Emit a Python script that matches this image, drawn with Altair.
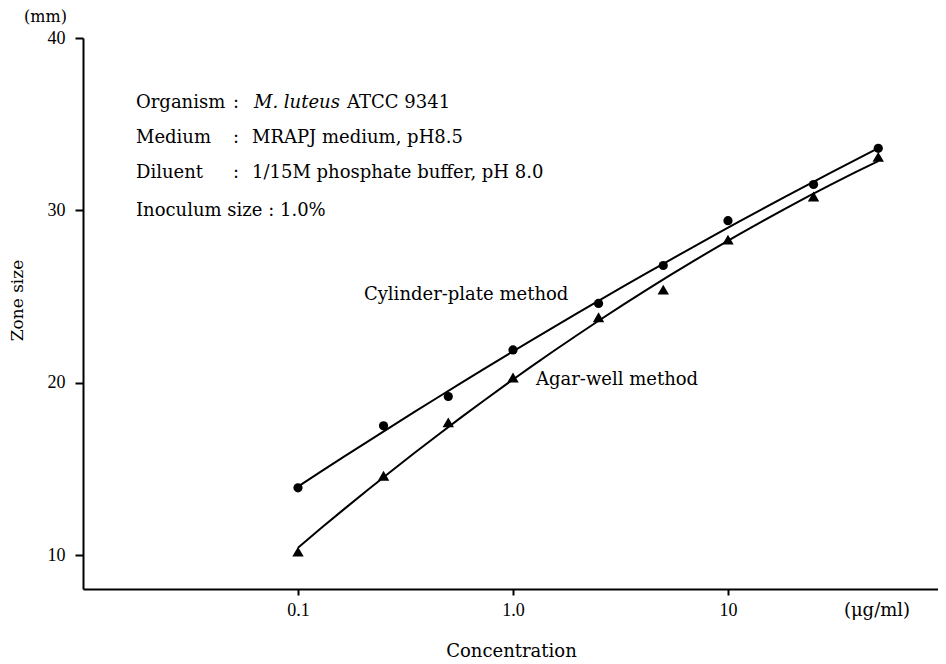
import altair as alt
import pandas as pd

# ---- data ----
conc = [0.1, 0.25, 0.5, 1.0, 2.5, 5.0, 10.0, 25.0, 50.0]
cylinder = [13.9, 17.5, 19.2, 21.9, 24.6, 26.8, 29.4, 31.5, 33.6]
agar = [10.2, 14.6, 17.7, 20.3, 23.8, 25.4, 28.3, 30.8, 33.1]
methods = ["Cylinder-plate method", "Agar-well method"]
shapes = ["circle", "triangle-up"]
x_ticks = [0.1, 1.0, 10.0]
x_tick_labels = ["0.1", "1.0", "10"]
y_ticks = [10, 20, 30, 40]

# annotation texts, anchored in data coordinates (left edge, vertical middle)
ann_text = ["Organism", ":", "ATCC 9341",
            "Medium", ":", "MRAPJ medium, pH8.5",
            "Diluent", ":", "1/15M phosphate buffer, pH 8.0",
            "Inoculum size : 1.0%",
            "Cylinder-plate method", "Agar-well method",
            "(\u03bcg/ml)"]
ann_x = [0.01764, 0.04985, 0.1690,
         0.01764, 0.04985, 0.06109,
         0.01764, 0.04985, 0.06109,
         0.01764,
         0.2026, 1.279,
         34.6]
ann_y = [36.23, 36.23, 36.23,
         34.20, 34.20, 34.20,
         32.17, 32.17, 32.17,
         29.97,
         25.09, 20.15,
         6.75]
italic_text = ["M. luteus"]
italic_x = [0.06242]
italic_y = [36.23]
unit_text = ["(mm)"]
unit_x = [0.00532]
unit_y = [41.22]

FONT = "Liberation Serif"
TFONT = "DejaVu Serif"
W, H = 855, 551

df = pd.DataFrame({
    "conc": conc * 2,
    "zone": cylinder + agar,
    "method": [methods[0]] * len(conc) + [methods[1]] * len(conc),
})
ann = pd.DataFrame({"conc": ann_x, "zone": ann_y, "text": ann_text})
ital = pd.DataFrame({"conc": italic_x, "zone": italic_y, "text": italic_text})
unit = pd.DataFrame({"conc": unit_x, "zone": unit_y, "text": unit_text})

label_expr = " : ".join(
    f"abs(datum.value - {v}) < 1e-6 ? '{l}'" for v, l in zip(x_ticks, x_tick_labels)
) + " : ''"

x_scale = alt.Scale(type="log", domain=[0.01, 94.8], nice=False)
y_scale = alt.Scale(domain=[8.03, 40], nice=False, zero=False)

x_enc = alt.X("conc:Q", scale=x_scale,
              axis=alt.Axis(values=x_ticks, labelExpr=label_expr, title="Concentration",
                            titleX=428, titleY=67, titleAnchor=None,
                            titleBaseline="alphabetic", titleAlign="center",
                            tickSize=6, labelPadding=6, grid=False))
y_enc = alt.Y("zone:Q", scale=y_scale,
              axis=alt.Axis(values=y_ticks, title="Zone size", titleX=-66, titleY=262,
                            titleAlign="center", titleBaseline="middle", titleFontSize=17,
                            tickSize=8, labelPadding=10, grid=False))

base = alt.Chart(df)

# fitted curves: quadratic fit of zone size against log concentration
lines = base.transform_calculate(
    lx="log(datum.conc) / LN10"
).transform_regression(
    "lx", "zone", method="poly", order=2, groupby=["method"]
).transform_calculate(
    conc="pow(10, datum.lx)"
).mark_line(color="black", strokeWidth=2).encode(x=x_enc, y=y_enc, detail="method:N")

points = base.mark_point(filled=True, color="black", opacity=1).encode(
    x=x_enc, y=y_enc,
    shape=alt.Shape("method:N", scale=alt.Scale(domain=methods, range=shapes), legend=None),
    size=alt.Size("method:N", scale=alt.Scale(domain=methods, range=[85, 130]), legend=None),
)

texts = alt.Chart(ann).mark_text(
    font=TFONT, fontSize=18, align="left", baseline="middle", color="black"
).encode(x="conc:Q", y="zone:Q", text="text:N")

itexts = alt.Chart(ital).mark_text(
    font=TFONT, fontSize=18, fontStyle="italic", align="left", baseline="middle", color="black"
).encode(x="conc:Q", y="zone:Q", text="text:N")

utexts = alt.Chart(unit).mark_text(
    font=TFONT, fontSize=16, align="left", baseline="middle", color="black"
).encode(x="conc:Q", y="zone:Q", text="text:N")

chart = alt.layer(lines, points, texts, itexts, utexts).properties(
    width=W, height=H,
    padding={"left": 75, "top": 30, "right": 0, "bottom": 76},
    autosize=alt.AutoSizeParams(type="none"),
    background="white",
).configure_view(stroke=None).configure_axis(
    domainColor="black", domainWidth=2, tickColor="black", tickWidth=2,
    labelFont=FONT, labelFontSize=18, labelColor="black",
    titleFont=TFONT, titleFontSize=18, titleColor="black", titleFontWeight="normal",
)

chart.save("out.html", embed_options={"renderer": "svg", "actions": False})
